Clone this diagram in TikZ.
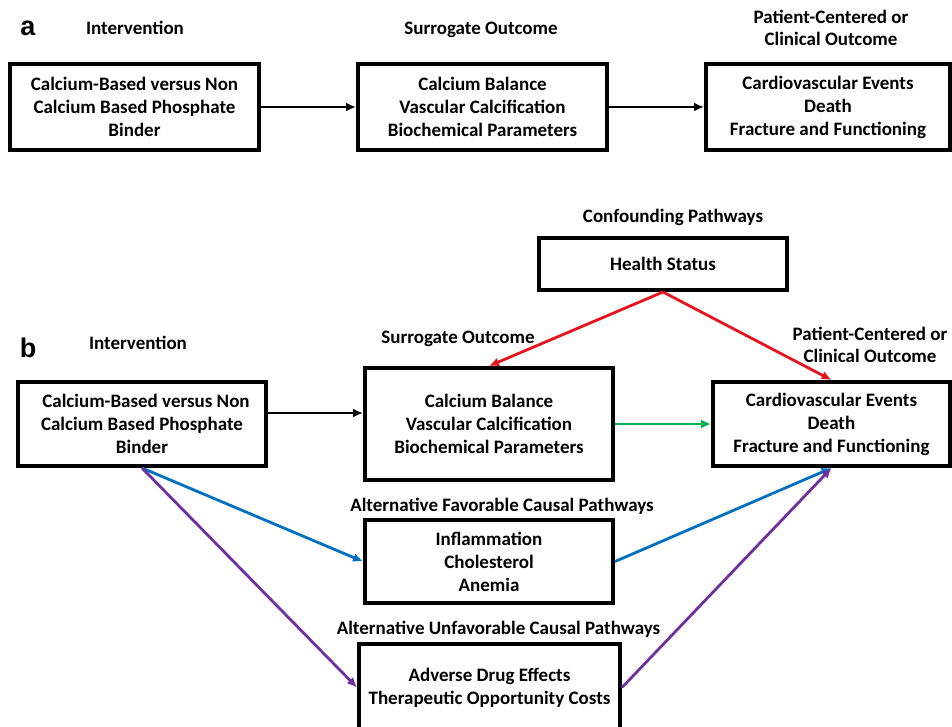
\documentclass[tikz,border=0pt]{standalone}
\usepackage{fontspec}
\setmainfont{Carlito}
\newfontfamily\panelfont{Liberation Sans}
\usetikzlibrary{arrows.meta}
\begin{document}
\begin{tikzpicture}[x=1pt,y=-1pt,line join=miter,
    box/.style={draw,line width=4pt,rectangle,align=center,inner sep=0pt,
      font=\bfseries\fontsize{19}{23}\selectfont},
    lbl/.style={align=center,inner sep=0pt,anchor=base,
      font=\bfseries\fontsize{19}{22}\selectfont},
    panel/.style={inner sep=0pt,font=\panelfont\bfseries\fontsize{27}{27}\selectfont},
    link/.style={line width=2.8pt,-{Latex[length=10pt,width=9pt]}}]
  \useasboundingbox (0,0) rectangle (952,727);
  \clip (0,0) rectangle (952,727);
  % panel a
  \node[panel] (pa) at (28,28) {a};
  \node[lbl] (ia) at (135,35) {Intervention};
  \node[lbl] (sa) at (481,35) {Surrogate Outcome};
  \node[lbl] (ca) at (831,46) {Patient-Centered or\\Clinical Outcome};
  \node[box,minimum width=249pt,minimum height=86pt] (a1) at (134.5,107)
    {Calcium-Based versus Non\\Calcium Based Phosphate\\Binder};
  \node[box,minimum width=249pt,minimum height=86pt] (a2) at (482.5,107)
    {Calcium Balance\\Vascular Calcification\\Biochemical Parameters};
  \node[box,minimum width=244pt,minimum height=86pt] (a3) at (828,107)
    {Cardiovascular Events\\Death\\Fracture and Functioning};
  \draw[link,black] (a1.east) -- (a2.west);
  \draw[link,black] (a2.east) -- (a3.west);
  % panel b
  \node[panel] (pb) at (28,348) {b};
  \node[lbl] (hl) at (673,223) {Confounding Pathways};
  \node[box,minimum width=248pt,minimum height=52pt] (hs) at (663,264) {Health Status};
  \node[lbl] (ib) at (138,349) {Intervention};
  \node[lbl] (sb) at (458,343) {Surrogate Outcome};
  \node[lbl] (cb) at (870,362) {Patient-Centered or\\Clinical Outcome};
  \node[box,minimum width=248pt,minimum height=84pt] (b1) at (142,424)
    {\hspace*{8pt}Calcium-Based versus Non\\Calcium Based Phosphate\\Binder};
  \node[box,minimum width=248pt,minimum height=112pt] (b2) at (489,424)
    {Calcium Balance\\Vascular Calcification\\Biochemical Parameters};
  \node[box,minimum width=237pt,minimum height=84pt] (b3) at (831.5,424)
    {Cardiovascular Events\\Death\\Fracture and Functioning};
  \node[lbl] (fl) at (502,511) {Alternative Favorable Causal Pathways};
  \node[box,minimum width=248pt,minimum height=83pt] (fav) at (489,561.5)
    {Inflammation\\Cholesterol\\Anemia};
  \node[lbl] (ul) at (498.5,634) {Alternative Unfavorable Causal Pathways};
  \node[box,minimum width=261pt,minimum height=87pt] (unf) at (489.5,687.5)
    {Adverse Drug Effects\\Therapeutic Opportunity Costs};
  \draw[link,black] ([yshift=11pt]b1.east) -- ([yshift=11pt]b2.west);
  \draw[link,color={rgb,255:red,0;green,176;blue,80}] (b2.east) -- (b3.west);
  \draw[link,color={rgb,255:red,230;green,20;blue,30}] (hs.south) -- (b2.north);
  \draw[link,color={rgb,255:red,230;green,20;blue,30}] (hs.south) -- (b3.north);
  \draw[link,color={rgb,255:red,0;green,112;blue,192}] (b1.south) -- (fav.west);
  \draw[link,color={rgb,255:red,0;green,112;blue,192}] (fav.east) -- (b3.south);
  \draw[link,color={rgb,255:red,112;green,48;blue,160}] (b1.south) -- (unf.west);
  \draw[link,color={rgb,255:red,112;green,48;blue,160}] (unf.east) -- (b3.south);
\end{tikzpicture}
\end{document}
